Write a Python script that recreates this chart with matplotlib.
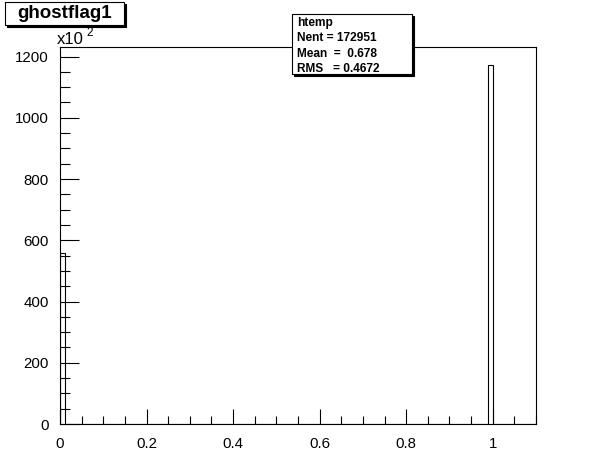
import matplotlib
matplotlib.use("Agg")
import matplotlib.pyplot as plt
import numpy as np
from matplotlib.patches import Rectangle
from matplotlib.ticker import MultipleLocator

# ghostflag1 values and how many entries each one has
flag_values = [0.0, 1.0]
flag_counts = [55690, 117261]
n_bins = 100
x_range = (0.0, 1.1)

title = "ghostflag1"
stats_lines = ["htemp", "Nent = 172951", "Mean  =  0.678", "RMS   = 0.4672"]

W, H = 596, 472
plt.rcParams["font.family"] = ["Liberation Sans", "DejaVu Sans"]

counts, edges = np.histogram(flag_values, bins=n_bins, range=x_range, weights=flag_counts)
counts = counts / 100.0  # axis shown in units of x10^2

fig = plt.figure(figsize=(W / 100, H / 100), dpi=100)
ax = fig.add_axes([60 / W, 1 - 424 / H, 476 / W, 377 / H])

ax.stairs(counts, edges, color="black", linewidth=0.8)
ax.set_xlim(*x_range)
ax.set_ylim(0, counts.max() * 1.05)

ax.xaxis.set_major_locator(MultipleLocator(0.2))
ax.xaxis.set_minor_locator(MultipleLocator(0.05))
ax.yaxis.set_major_locator(MultipleLocator(200))
ax.yaxis.set_minor_locator(MultipleLocator(50))
ax.xaxis.set_major_formatter(plt.FuncFormatter(lambda v, p: f"{v:g}"))

ax.tick_params(which="both", direction="in", top=False, right=False, width=0.8, labelsize=10.8)
ax.tick_params(axis="x", which="major", length=11, pad=9)
ax.tick_params(axis="x", which="minor", length=6)
ax.tick_params(axis="y", which="major", length=14, pad=8)
ax.tick_params(axis="y", which="minor", length=7)
for s in ax.spines.values():
    s.set_linewidth(0.8)

# exponent label, ROOT style "x10 2" with raised 2
fig.text(57 / W, 1 - 44 / H, "x10", fontsize=12, ha="left", va="baseline")
fig.text(86 / W, 1 - 36 / H, "2", fontsize=8.5, ha="left", va="baseline")


def shadow_box(x0, y0, x1, y1):
    # box given in pixels from top-left, with ROOT style shadow
    tr = fig.transFigure
    fig.patches.append(Rectangle(((x0 + 2) / W, 1 - (y1 + 2) / H), (x1 - x0) / W, (y1 - y0) / H,
                                 transform=tr, facecolor="black", edgecolor="black", linewidth=0.8))
    fig.patches.append(Rectangle((x0 / W, 1 - y1 / H), (x1 - x0) / W, (y1 - y0) / H,
                                 transform=tr, facecolor="white", edgecolor="black", linewidth=0.8))


shadow_box(5, 2, 124, 25)
fig.text(65 / W, 1 - 13 / H, title, fontsize=13.5, fontweight="bold", ha="center", va="center")

shadow_box(292, 14, 412, 74)
for i, line in enumerate(stats_lines):
    fig.text(297 / W, 1 - (23 + 15.3 * i) / H, line, fontsize=8.6, fontweight="bold",
             ha="left", va="center")

fig.savefig("out.png", dpi=100)
